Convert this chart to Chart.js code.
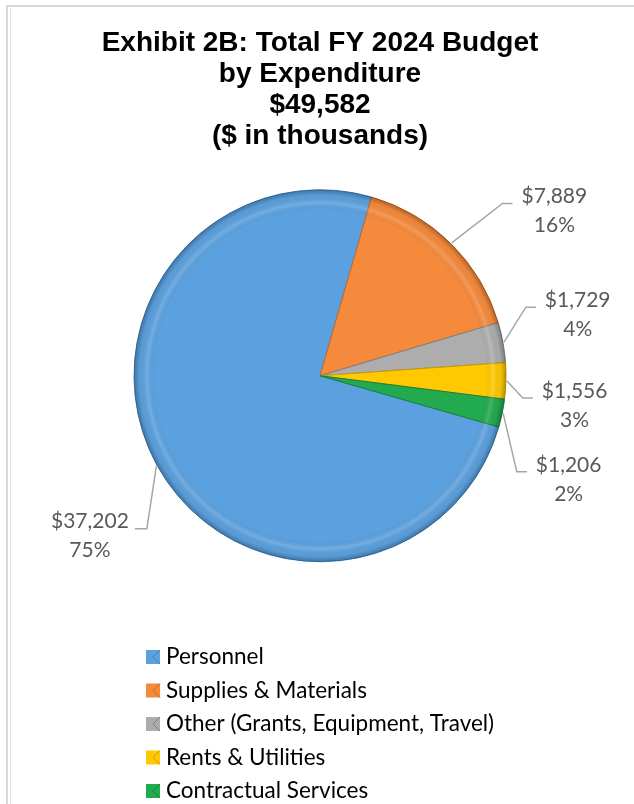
<!DOCTYPE html>
<html>
<head>
<meta charset="utf-8">
<script src="https://cdn.jsdelivr.net/npm/chart.js@4.4.1/dist/chart.umd.min.js"></script>
<style>
  html, body { margin: 0; padding: 0; background: #fff; }
  #wrap { position: relative; width: 634px; height: 804px; overflow: hidden; }
  .frame-top { position: absolute; left: 6px; top: 5px; width: 640px; height: 2px; background: #d9d9d9; }
  .frame-left { position: absolute; left: 6px; top: 5px; width: 2px; height: 820px; background: #d9d9d9; }
  .frame-left2 { position: absolute; left: 10px; top: 7px; width: 1px; height: 820px; background: #e3e3e3; }
  canvas { position: absolute; left: 0; top: 0; }
</style>
</head>
<body>
<div id="wrap">
  <div class="frame-top"></div>
  <div class="frame-left"></div>
  <div class="frame-left2"></div>
  <canvas id="budgetChart" width="634" height="804"></canvas>
</div>
<script>
const categories = ["Personnel", "Supplies & Materials", "Other (Grants, Equipment, Travel)", "Rents & Utilities", "Contractual Services"];
const amounts = [37202, 7889, 1729, 1556, 1206];
const percentLabels = ["75%", "16%", "4%", "3%", "2%"];
const titleLines = ["Exhibit 2B: Total FY 2024 Budget", "by Expenditure", "$49,582", "($ in thousands)"];

const sliceColors = ["#5ca1df", "#f58a3c", "#adadad", "#ffc800", "#22aa4f"];
const edgeColors = ["#3f7fb8", "#c4672a", "#7f7f7f", "#c99a00", "#17803a"];

// callout elbow: angle nudge from the slice middle (deg) and distance from the centre
const calloutPlacement = [
  { nudge: -12.5, dist: 231 },
  { nudge: 1.9, dist: 251 },
  { nudge: -8.1, dist: 217 },
  { nudge: 4.7, dist: 204 },
  { nudge: 14.4, dist: 219 }
];

const labelFont = "21px Lato";

// rim shading + value/percent callouts
const callouts = {
  id: 'callouts',
  afterDatasetsDraw(chart) {
    const ctx = chart.ctx;
    const meta = chart.getDatasetMeta(0);
    const first = meta.data[0].getProps(['x', 'y', 'outerRadius'], true);

    ctx.save();
    const g = ctx.createRadialGradient(first.x, first.y, 0, first.x, first.y, first.outerRadius);
    g.addColorStop(0, 'rgba(0,0,0,0)');
    g.addColorStop(0.89, 'rgba(0,0,0,0)');
    g.addColorStop(0.93, 'rgba(255,255,255,0.14)');
    g.addColorStop(0.97, 'rgba(0,0,0,0.03)');
    g.addColorStop(1, 'rgba(0,0,0,0.28)');
    ctx.fillStyle = g;
    ctx.beginPath();
    ctx.arc(first.x, first.y, first.outerRadius, 0, Math.PI * 2);
    ctx.fill();

    ctx.font = labelFont;
    meta.data.forEach((arc, i) => {
      const p = arc.getProps(['x', 'y', 'startAngle', 'endAngle', 'outerRadius'], true);
      const mid = (p.startAngle + p.endAngle) / 2;
      const place = calloutPlacement[i];
      const a2 = mid + place.nudge * Math.PI / 180;
      const sx = p.x + Math.cos(mid) * (p.outerRadius + 1);
      const sy = p.y + Math.sin(mid) * (p.outerRadius + 1);
      const ex = p.x + Math.cos(a2) * place.dist;
      const ey = p.y + Math.sin(a2) * place.dist;
      const right = Math.cos(a2) >= 0;
      const hx = ex + (right ? 10 : -12);

      ctx.strokeStyle = '#a6a6a6';
      ctx.lineWidth = 1.5;
      ctx.beginPath();
      ctx.moveTo(sx, sy);
      ctx.lineTo(ex, ey);
      ctx.lineTo(hx, ey);
      ctx.stroke();

      const lines = ['$' + amounts[i].toLocaleString('en-US'), percentLabels[i]];
      const w = Math.max(...lines.map(t => ctx.measureText(t).width));
      const cx = right ? hx + 9 + w / 2 : hx - 6 - w / 2;
      ctx.fillStyle = '#595959';
      ctx.textAlign = 'center';
      ctx.textBaseline = 'middle';
      lines.forEach((t, k) => ctx.fillText(t, cx, ey - 7 + k * 29));
    });
    ctx.restore();
  }
};

// one item per row legend under the pie
const columnLegend = {
  id: 'columnLegend',
  afterDraw(chart, args, opts) {
    const ctx = chart.ctx;
    ctx.save();
    ctx.font = opts.font;
    ctx.textBaseline = 'middle';
    ctx.textAlign = 'left';
    chart.data.labels.forEach((label, i) => {
      const y = opts.top + i * opts.rowGap;
      ctx.fillStyle = sliceColors[i];
      ctx.fillRect(opts.x, y - 7, 14, 14);
      ctx.strokeStyle = edgeColors[i];
      ctx.lineWidth = 1;
      ctx.beginPath();
      ctx.moveTo(opts.x + 14, y - 7);
      ctx.lineTo(opts.x + 7, y);
      ctx.lineTo(opts.x + 14, y + 7);
      ctx.stroke();
      ctx.fillStyle = '#000';
      ctx.fillText(label, opts.x + 20, y);
    });
    ctx.restore();
  }
};

new Chart(document.getElementById('budgetChart'), {
  type: 'pie',
  data: {
    labels: categories,
    datasets: [{
      data: amounts,
      backgroundColor: sliceColors,
      borderColor: edgeColors,
      borderWidth: 1
    }]
  },
  options: {
    responsive: false,
    animation: false,
    rotation: 106,
    radius: 186,
    layout: { padding: { top: 0, left: 6, right: 0, bottom: 210 } },
    plugins: {
      legend: { display: false },
      tooltip: { enabled: false },
      title: {
        display: true,
        text: titleLines,
        color: '#000',
        font: { family: 'Liberation Sans', size: 28, weight: 'bold', lineHeight: '31px' },
        padding: { top: 27.5, bottom: 6 }
      },
      columnLegend: { x: 146, top: 657, rowGap: 33.5, font: '22.5px Lato' }
    }
  },
  plugins: [callouts, columnLegend]
});
</script>
</body>
</html>
